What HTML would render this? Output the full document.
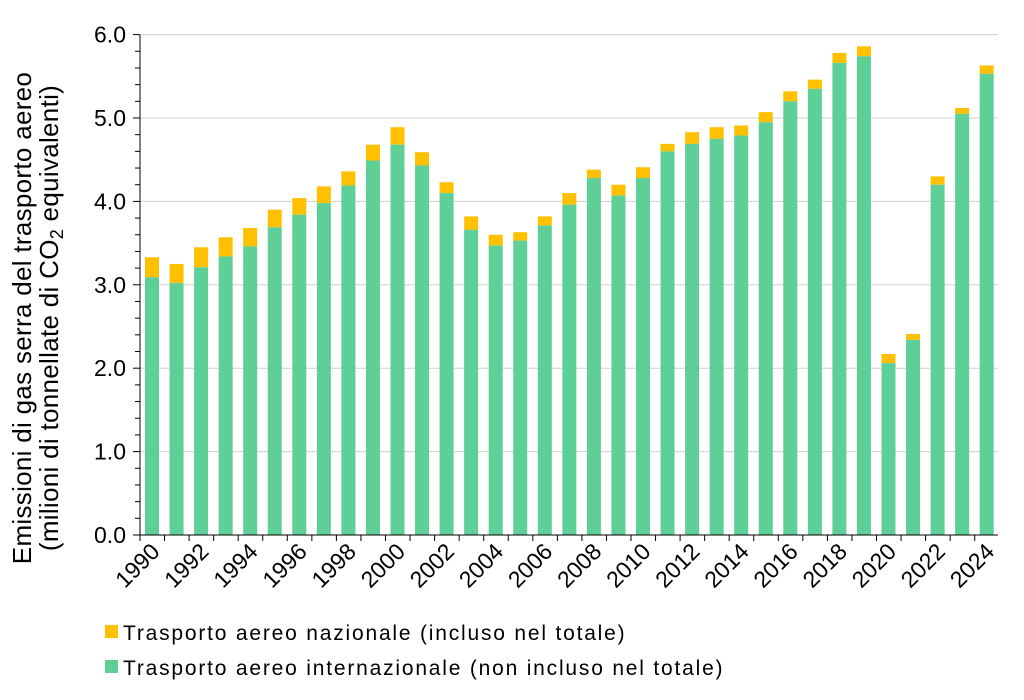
<!DOCTYPE html><html><head><style>body{margin:0;background:#fff}svg text{font-family:"Liberation Sans",Arial,sans-serif}</style></head><body>
<svg width="1024" height="695" xmlns="http://www.w3.org/2000/svg">
<g id="g"></g>
<text transform="translate(31,318) rotate(-90)" text-anchor="middle" font-size="26" letter-spacing="0.3" fill="#000">Emissioni  di gas serra del trasporto aereo</text>
<text transform="translate(58,318) rotate(-90)" text-anchor="middle" font-size="26" letter-spacing="0.3" fill="#000">(milioni di tonnellate di CO<tspan font-size="18" dy="5">2</tspan><tspan dy="-5"> equivalenti)</tspan></text>
<rect x="105" y="625" width="13" height="13" fill="#ffc000"/>
<text x="123" y="640" font-size="21" letter-spacing="1.8">Trasporto aereo nazionale (incluso nel totale)</text>
<rect x="105" y="660" width="13" height="13" fill="#5fcf98"/>
<text x="123" y="675" font-size="21" letter-spacing="1.8">Trasporto aereo internazionale (non incluso nel totale)</text>
</svg>
<script>
const G=[3.09,3.02,3.21,3.34,3.46,3.69,3.84,3.98,4.19,4.49,4.68,4.43,4.10,3.66,3.47,3.53,3.71,3.96,4.28,4.07,4.28,4.60,4.69,4.75,4.79,4.95,5.20,5.35,5.66,5.74,2.06,2.34,4.20,5.05,5.53];
const T=[3.33,3.25,3.45,3.57,3.68,3.90,4.04,4.18,4.36,4.68,4.89,4.59,4.23,3.82,3.60,3.63,3.82,4.10,4.38,4.20,4.41,4.69,4.83,4.89,4.91,5.07,5.32,5.46,5.78,5.86,2.17,2.41,4.30,5.12,5.63];
let s='';const y0=535,k=83.4,x0=140,w=24.55;
for(let i=1;i<=6;i++){const y=y0-i*k;s+=`<line x1="${x0}" x2="998" y1="${y}" y2="${y}" stroke="#d0d0d0"/>`}
for(let i=0;i<=30;i++){const y=y0-i*k/5;s+=`<line x1="${x0-(i%5?5:7)}" x2="${x0}" y1="${y}" y2="${y}" stroke="#000"/>`}
for(let i=0;i<=6;i++){s+=`<text x="${x0-14}" y="${y0-i*k+8}" text-anchor="end" font-size="23">${i}.0</text>`}
G.forEach((g,i)=>{const x=x0+5+i*w;s+=`<rect x="${x}" y="${y0-T[i]*k}" width="14" height="${(T[i]-g)*k}" fill="#ffc000"/><rect x="${x}" y="${y0-g*k}" width="14" height="${g*k}" fill="#5fcf98"/>`;
s+=`<line x1="${x0+i*w}" x2="${x0+i*w}" y1="${y0}" y2="${y0+6}" stroke="#000"/>`;
if(i%2==0)s+=`<text transform="translate(${x0+i*w+21},${y0+18}) rotate(-45)" text-anchor="end" font-size="23">${1990+i}</text>`});
s+=`<line x1="${x0}" x2="${x0}" y1="35" y2="${y0}" stroke="#000"/><line x1="${x0}" x2="998" y1="${y0}" y2="${y0}" stroke="#000"/>`;
document.getElementById('g').innerHTML=s;
</script></body></html>
